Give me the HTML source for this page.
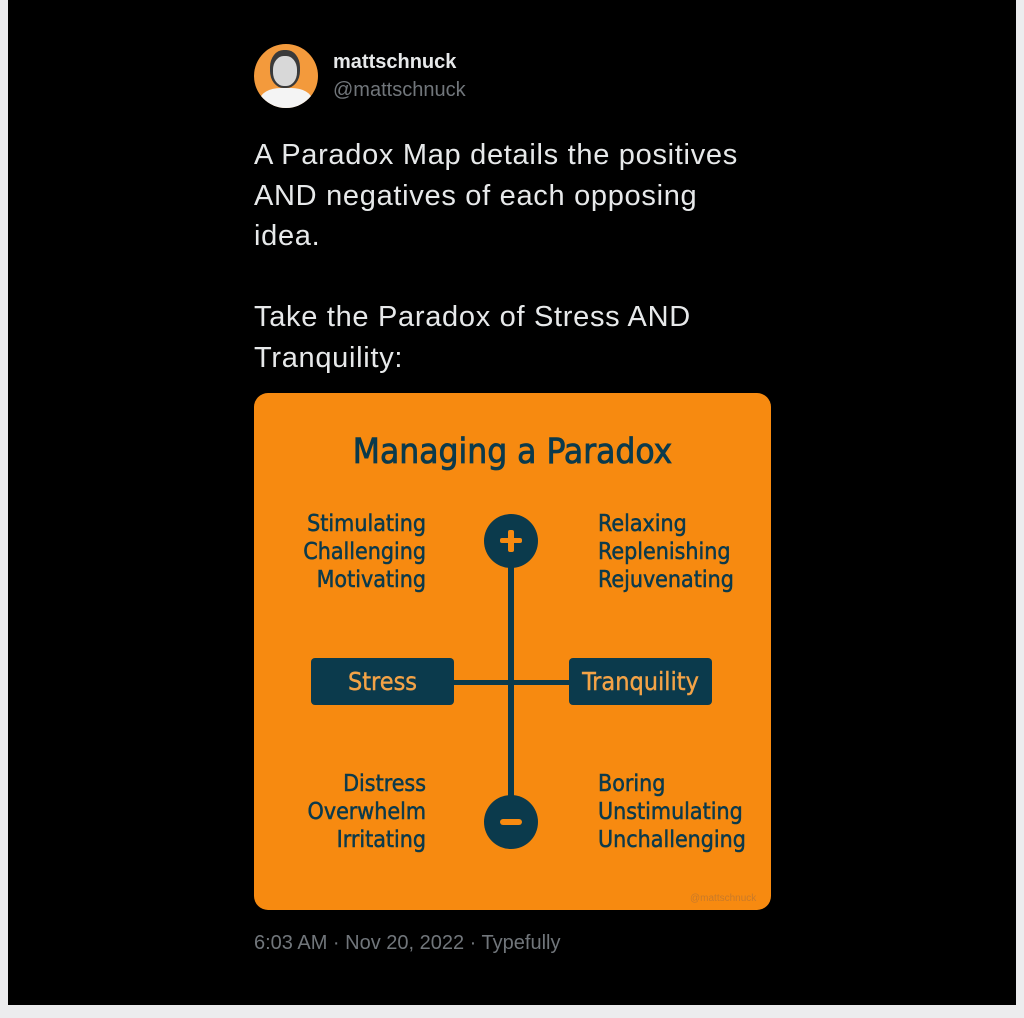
<!DOCTYPE html>
<html><head><style>
body{margin:0;width:1024px;height:1018px;background:#ececee;position:relative;overflow:hidden;font-family:"Liberation Sans",sans-serif}
#bk{position:absolute;left:8px;top:0;width:1008px;height:1005px;background:#000}
.t{position:absolute;color:#e7e9ea;white-space:nowrap}
.d{position:absolute;color:#0b3a4c;font-size:23px;line-height:28px;white-space:nowrap;font-family:"DejaVu Sans Condensed",sans-serif;-webkit-text-stroke:0.5px #0b3a4c}
</style></head><body>
<div id="bk"></div>
<div style="position:absolute;left:254px;top:44px;width:64px;height:64px;border-radius:50%;background:#f39a3c;overflow:hidden">
<div style="position:absolute;left:16px;top:6px;width:30px;height:38px;border-radius:45%;background:#3a3a3a"></div>
<div style="position:absolute;left:19px;top:12px;width:24px;height:30px;border-radius:45%;background:#d8d8d8"></div>
<div style="position:absolute;left:6px;top:44px;width:52px;height:30px;border-radius:40%;background:#f4f4f4"></div>
</div>
<div class="t" style="left:333px;top:51px;font-size:20px;font-weight:bold">mattschnuck</div>
<div class="t" style="left:333px;top:79px;font-size:20px;color:#71767b">@mattschnuck</div>
<div class="t" style="left:254px;top:135px;font-size:29px;letter-spacing:0.7px;line-height:40.5px">A Paradox Map details the positives<br>AND negatives of each opposing<br>idea.<br><br>Take the Paradox of Stress AND<br>Tranquility:</div>
<div style="position:absolute;left:254px;top:393px;width:517px;height:517px;border-radius:14px;background:#f78a10"></div>
<div class="d" style="left:254px;width:517px;text-align:center;top:430px;font-size:35px;line-height:44px;-webkit-text-stroke:0.8px #0b3a4c">Managing a Paradox</div>
<div style="position:absolute;left:508px;top:541px;width:6px;height:281px;background:#0b3a4c"></div>
<div style="position:absolute;left:454px;top:680px;width:115px;height:5px;background:#0b3a4c"></div>
<div style="position:absolute;left:484px;top:514px;width:54px;height:54px;border-radius:50%;background:#0b3a4c"></div>
<div style="position:absolute;left:500px;top:538px;width:22px;height:5px;background:#f78a10;border-radius:2px"></div>
<div style="position:absolute;left:508px;top:530px;width:6px;height:22px;background:#f78a10;border-radius:2px"></div>
<div style="position:absolute;left:484px;top:795px;width:54px;height:54px;border-radius:50%;background:#0b3a4c"></div>
<div style="position:absolute;left:500px;top:819px;width:22px;height:6px;background:#f78a10;border-radius:3px"></div>
<div style="position:absolute;left:311px;top:658px;width:143px;height:47px;border-radius:4px;background:#0b3a4c;color:#f4a347;font-size:25px;line-height:47px;text-align:center;font-family:'DejaVu Sans Condensed',sans-serif;-webkit-text-stroke:0.4px #f4a347">Stress</div>
<div style="position:absolute;left:569px;top:658px;width:143px;height:47px;border-radius:4px;background:#0b3a4c;color:#f4a347;font-size:25px;line-height:47px;text-align:center;font-family:'DejaVu Sans Condensed',sans-serif;-webkit-text-stroke:0.4px #f4a347">Tranquility</div>
<div class="d" style="right:598px;top:510px;text-align:right">Stimulating<br>Challenging<br>Motivating</div>
<div class="d" style="left:598px;top:510px">Relaxing<br>Replenishing<br>Rejuvenating</div>
<div class="d" style="right:598px;top:770px;text-align:right">Distress<br>Overwhelm<br>Irritating</div>
<div class="d" style="left:598px;top:770px">Boring<br>Unstimulating<br>Unchallenging</div>
<div style="position:absolute;left:690px;top:893px;font-size:10px;color:#c87a2a;white-space:nowrap">@mattschnuck</div>
<div class="t" style="left:254px;top:932px;font-size:20px;color:#71767b">6:03 AM · Nov 20, 2022 · Typefully</div>
</body></html>
